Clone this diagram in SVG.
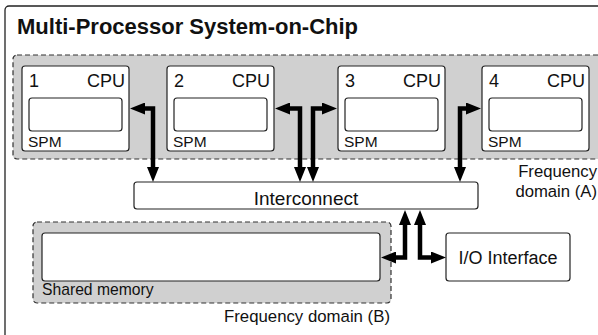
<svg xmlns="http://www.w3.org/2000/svg" width="598" height="335" viewBox="0 0 598 335">
<style>
text{font-family:"Liberation Sans",Arial,Helvetica,sans-serif;fill:#111}
.title{font-size:22px;font-weight:bold}
.lbl{font-size:18px}
.spm{font-size:15.5px}
.dom{font-size:16.7px}
.box{fill:#fff;stroke:#222;stroke-width:1.2}
.domain{fill:#d0d0d0;stroke:#333;stroke-width:1.2;stroke-dasharray:5 3}
.conn{fill:none;stroke:#000;stroke-width:4.5;stroke-linejoin:miter;marker-start:url(#ah);marker-end:url(#ah)}
</style>
<defs>
<marker id="ah" markerUnits="userSpaceOnUse" markerWidth="15" markerHeight="12" viewBox="0 0 15 12" refX="3" refY="6" orient="auto-start-reverse">
<path d="M0,0 L15,6 L0,12 Z" fill="#000"/>
</marker>
</defs>
<rect x="5" y="6" width="605" height="340" rx="4" fill="#fff" stroke="#222" stroke-width="1.3"/>
<text class="title" x="17" y="33.5">Multi-Processor System-on-Chip</text>

<g id="domainA">
<rect class="domain" x="13" y="55" width="595" height="104" rx="4"/>
<text class="dom" x="597" y="177" text-anchor="end">Frequency</text>
<text class="dom" x="597" y="197" text-anchor="end">domain (A)</text>
</g>

<g id="domainB">
<rect class="domain" x="33" y="222" width="358" height="81" rx="4"/>
<text class="dom" x="390" y="322" text-anchor="end" style="font-size:16.8px">Frequency domain (B)</text>
</g>

<g id="cpu1">
<rect class="box" x="22" y="66" width="107" height="85" rx="3"/>
<rect class="box" x="29" y="98" width="93" height="33" rx="3"/>
<text class="lbl" x="29" y="86.5">1</text>
<text class="lbl" x="125" y="86.5" text-anchor="end">CPU</text>
<text class="spm" x="28" y="147">SPM</text>
</g>
<g id="cpu2">
<rect class="box" x="167" y="66" width="107" height="85" rx="3"/>
<rect class="box" x="174" y="98" width="93" height="33" rx="3"/>
<text class="lbl" x="174" y="86.5">2</text>
<text class="lbl" x="270" y="86.5" text-anchor="end">CPU</text>
<text class="spm" x="173" y="147">SPM</text>
</g>
<g id="cpu3">
<rect class="box" x="338" y="66" width="107" height="85" rx="3"/>
<rect class="box" x="345" y="98" width="93" height="33" rx="3"/>
<text class="lbl" x="345" y="86.5">3</text>
<text class="lbl" x="441" y="86.5" text-anchor="end">CPU</text>
<text class="spm" x="344" y="147">SPM</text>
</g>
<g id="cpu4">
<rect class="box" x="482" y="66" width="107" height="85" rx="3"/>
<rect class="box" x="489" y="98" width="93" height="33" rx="3"/>
<text class="lbl" x="489" y="86.5">4</text>
<text class="lbl" x="585" y="86.5" text-anchor="end">CPU</text>
<text class="spm" x="488" y="147">SPM</text>
</g>

<g id="interconnect">
<rect class="box" x="134" y="182" width="344" height="27" rx="3"/>
<text class="lbl" x="306" y="204.5" text-anchor="middle" style="font-size:19px">Interconnect</text>
</g>

<g id="sharedmem">
<rect class="box" x="42" y="233" width="338" height="48" rx="3"/>
<text class="spm" x="42" y="295" style="font-size:15.7px">Shared memory</text>
</g>

<g id="io">
<rect class="box" x="446" y="233" width="124" height="48" rx="3"/>
<text class="lbl" x="508" y="263.5" text-anchor="middle">I/O Interface</text>
</g>

<g id="connectors">
<path class="conn" d="M142,108.5 H153 V170"/>
<path class="conn" d="M287,108.5 H300 V170"/>
<path class="conn" d="M325,108.5 H313 V170"/>
<path class="conn" d="M469,108.5 H460 V170"/>
<path class="conn" d="M405,222 V257.5 H393"/>
<path class="conn" d="M420,222 V257.5 H434"/>
</g>
</svg>
